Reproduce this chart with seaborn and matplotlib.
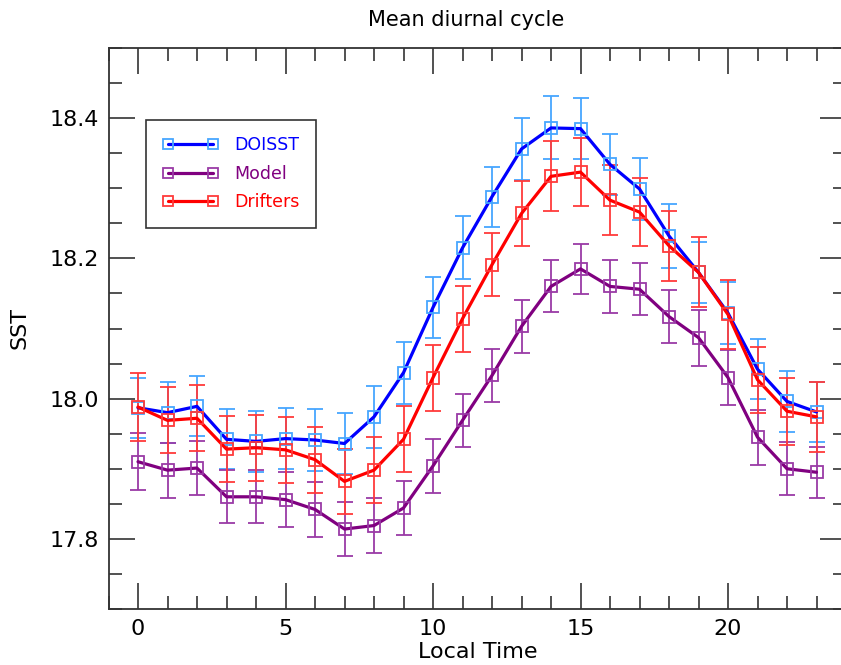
import numpy as np
import pandas as pd
import matplotlib
matplotlib.use("Agg")
import matplotlib.pyplot as plt
from matplotlib.lines import Line2D
from matplotlib.ticker import MultipleLocator
import seaborn as sns

# Data
hours = list(range(24))
doisst = [17.987, 17.980, 17.989, 17.942, 17.939, 17.943, 17.941, 17.936, 17.974, 18.037, 18.130, 18.215,
          18.288, 18.356, 18.386, 18.385, 18.334, 18.299, 18.232, 18.180, 18.122, 18.042, 17.996, 17.981]
model = [17.910, 17.898, 17.901, 17.860, 17.860, 17.856, 17.842, 17.814, 17.819, 17.844, 17.904, 17.969,
         18.033, 18.103, 18.160, 18.185, 18.160, 18.156, 18.117, 18.087, 18.030, 17.945, 17.900, 17.895]
drifters = [17.988, 17.969, 17.972, 17.928, 17.930, 17.927, 17.913, 17.882, 17.898, 17.942, 18.030, 18.114,
            18.191, 18.264, 18.317, 18.323, 18.283, 18.266, 18.218, 18.180, 18.120, 18.027, 17.982, 17.974]

doisst_err = [0.043, 0.043, 0.043, 0.043, 0.043, 0.044, 0.044, 0.044, 0.044, 0.044, 0.044, 0.045,
              0.043, 0.044, 0.045, 0.044, 0.044, 0.044, 0.046, 0.044, 0.044, 0.043, 0.043, 0.043]
model_err = [0.041, 0.039, 0.039, 0.038, 0.038, 0.039, 0.039, 0.039, 0.039, 0.039, 0.038, 0.038,
             0.038, 0.038, 0.037, 0.036, 0.038, 0.037, 0.038, 0.040, 0.039, 0.039, 0.038, 0.036]
drifters_err = [0.048, 0.047, 0.047, 0.047, 0.047, 0.047, 0.047, 0.046, 0.047, 0.047, 0.047, 0.047,
                0.045, 0.046, 0.050, 0.049, 0.050, 0.049, 0.050, 0.050, 0.049, 0.047, 0.048, 0.050]

names = ["DOISST", "Model", "Drifters"]
line_colors = ["#0000ff", "#800080", "#ff0000"]
mark_colors = ["#46a6ff", "#9a3aa6", "#ff3a3a"]

df = pd.DataFrame({"hour": hours * 3,
                   "sst": doisst + model + drifters,
                   "err": doisst_err + model_err + drifters_err,
                   "source": sum([[n] * 24 for n in names], [])})

sns.set_style("ticks")
plt.rcParams["font.family"] = ["DejaVu Sans"]

fig = plt.figure(figsize=(8.41, 6.65), dpi=100)
ax = fig.add_axes([108.5 / 841, 56 / 665, 737.5 / 841, 561 / 665])

for name, lc, mc in zip(names, line_colors, mark_colors):
    d = df[df["source"] == name]
    ax.errorbar(d["hour"], d["sst"], yerr=d["err"], fmt="none", ecolor=mc,
                elinewidth=1.3, capsize=6, capthick=1.3, zorder=2)
    sns.lineplot(data=d, x="hour", y="sst", color=lc, linewidth=2.3, ax=ax,
                 marker="s", markersize=8.5, markerfacecolor="none",
                 markeredgecolor=mc, markeredgewidth=1.3, zorder=3, legend=False)

ax.set_xlim(-1, 24)
ax.set_ylim(17.7, 18.5)
ax.xaxis.set_major_locator(MultipleLocator(5))
ax.xaxis.set_minor_locator(MultipleLocator(1))
ax.yaxis.set_major_locator(MultipleLocator(0.2))
ax.yaxis.set_minor_locator(MultipleLocator(0.05))
ax.tick_params(which="both", direction="in", top=True, right=True, width=1.2,
               color="#333333", labelcolor="black")
ax.tick_params(which="major", length=19, labelsize=16, pad=7)
ax.tick_params(which="minor", length=9.5)
for s in ax.spines.values():
    s.set_linewidth(1.3)
    s.set_color("#333333")

ax.set_xlabel("Local Time", fontsize=16, labelpad=2.5, color="black")
ax.set_ylabel("SST", fontsize=16, labelpad=14, color="black")
ax.set_title("Mean diurnal cycle", fontsize=15, pad=16, x=0.485, color="black")

handles = [Line2D([0], [0], color=lc, linewidth=2.3, marker="s", markersize=7.5,
                  markerfacecolor="none", markeredgecolor=mc, markeredgewidth=1.3)
           for lc, mc in zip(line_colors, mark_colors)]
leg = ax.legend(handles, names, loc="upper left", bbox_to_anchor=(0.051, 0.872),
                numpoints=2, prop={"size": 12.5}, frameon=True, fancybox=False,
                borderpad=0.95, handlelength=3.2, handletextpad=0.9,
                labelspacing=0.6, borderaxespad=0)
leg.get_frame().set_edgecolor("#333333")
leg.get_frame().set_linewidth(1.2)
leg.get_frame().set_alpha(1)
for t, c in zip(leg.get_texts(), line_colors):
    t.set_color(c)

fig.savefig("out.png", dpi=100)
